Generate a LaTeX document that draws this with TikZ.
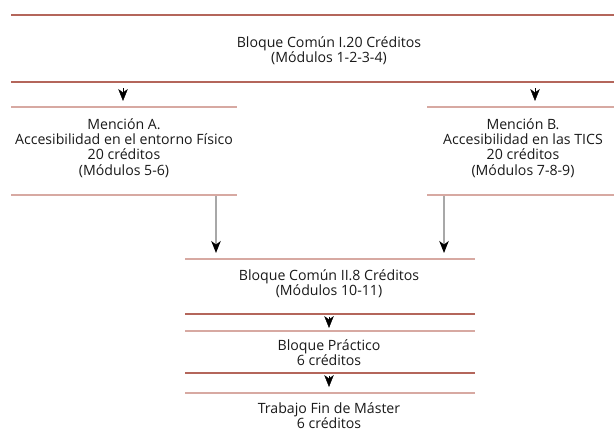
\documentclass[tikz,border=0pt]{standalone}
\usepackage{fontspec}
\setmainfont{Open Sans}
\usetikzlibrary{arrows.meta}
\definecolor{rdark}{HTML}{B4665B}
\definecolor{rlight}{HTML}{D7A9A2}
\definecolor{shaft}{HTML}{A8A8A8}
\begin{document}
\begin{tikzpicture}[x=1bp,y=-1bp,
  txt/.style={align=center,inner sep=0pt,text=black!90,font=\fontsize{14.2}{15.4}\selectfont},
  rule/.style={rdark,line width=1.3bp},
  rulel/.style={rlight,line width=1.3bp},
  tip/.style={-{Stealth[length=12pt,width=9.5pt,inset=3.5pt]},black},
  longarrow/.style={shaft,line width=1.1pt,-{Stealth[length=12pt,width=9.5pt,inset=3.5pt,color=black,fill=black]}}]
\useasboundingbox (0,0) rectangle (614,433);
% rules
\draw[rule] (11,15) -- (614,15);
\draw[rule] (11,82) -- (614,82);
\draw[rulel] (11,107) -- (237,107);
\draw[rulel] (427,107) -- (614,107);
\draw[rulel] (11,195) -- (237,195);
\draw[rulel] (427,195) -- (614,195);
\draw[rulel] (185,259) -- (475,259);
\draw[rule] (185,314) -- (475,314);
\draw[rulel] (185,331) -- (475,331);
\draw[rule] (185,373) -- (475,373);
\draw[rulel] (185,393) -- (475,393);
% text blocks
\node[txt] (b1) at (329,50.5) {Bloque Común I.20 Créditos\\(Módulos 1-2-3-4)};
\node[txt] (ma) at (124,148) {Mención A.\\Accesibilidad en el entorno Físico\\20 créditos\\(Módulos 5-6)};
\node[txt] (mb) at (523,148) {Mención B.\\Accesibilidad en las TICS\\20 créditos\\(Módulos 7-8-9)};
\node[txt] (b2) at (329,284) {Bloque Común II.8 Créditos\\(Módulos 10-11)};
\node[txt] (bp) at (329,352.5) {Bloque Práctico\\6 créditos};
\node[txt] (tf) at (329,415.5) {Trabajo Fin de Máster\\6 créditos};
% connectors
\coordinate (a1s) at (123,88.5); \coordinate (a1e) at (123,101);
\coordinate (a2s) at (535,88.5); \coordinate (a2e) at (535,101);
\draw[tip] (a1s) -- (a1e);
\draw[tip] (a2s) -- (a2e);
\coordinate (la) at (216,196); \coordinate (lae) at (216,253);
\coordinate (lb) at (444,196); \coordinate (lbe) at (444,253);
\draw[longarrow] (la) -- (lae);
\draw[longarrow] (lb) -- (lbe);
\coordinate (c1s) at (329,316.5); \coordinate (c1e) at (329,328);
\coordinate (c2s) at (329,375.5); \coordinate (c2e) at (329,387);
\draw[tip] (c1s) -- (c1e);
\draw[tip] (c2s) -- (c2e);
\end{tikzpicture}
\end{document}
